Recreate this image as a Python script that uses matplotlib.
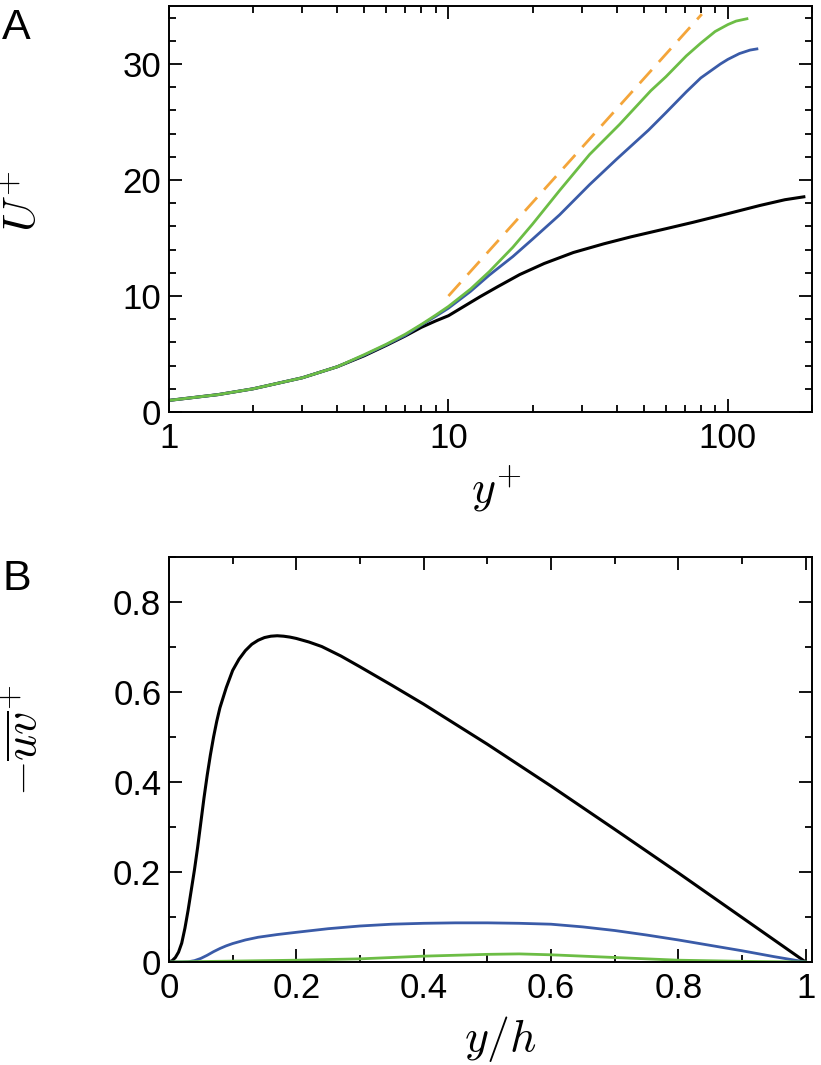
import numpy as np
import matplotlib
matplotlib.use("Agg")
import matplotlib.pyplot as plt
from matplotlib.ticker import LogLocator, NullFormatter, MultipleLocator, FixedLocator

plt.rcParams.update({
    "font.family": ["Liberation Sans", "DejaVu Sans"],
    "mathtext.fontset": "cm",
    "xtick.direction": "in",
    "ytick.direction": "in",
    "xtick.top": True,
    "ytick.right": True,
})

# ── Data: panel A, mean velocity profiles U+ vs y+ ─────────────────────────────
yp_black = [1, 1.5, 2, 3, 4, 5, 6, 7, 8, 9, 10, 11, 13, 15, 18, 22, 28, 36, 45,
            60, 75, 100, 130, 160, 187]
U_black = [1.0, 1.5, 2.0, 2.95, 3.9, 4.85, 5.75, 6.55, 7.3, 7.85, 8.3, 8.9, 9.95,
           10.8, 11.85, 12.8, 13.75, 14.5, 15.1, 15.8, 16.35, 17.1, 17.8, 18.3,
           18.55]

yp_blue = [1, 1.5, 2, 3, 4, 5, 6, 7, 8, 9, 10, 12, 14, 17, 20, 25, 32, 40, 52,
           60, 71, 80, 94, 100, 110, 120, 127]
U_blue = [1.0, 1.5, 2.0, 2.95, 3.9, 4.9, 5.8, 6.6, 7.5, 8.25, 8.95, 10.4, 11.8,
          13.4, 14.9, 17.0, 19.6, 21.8, 24.3, 25.8, 27.6, 28.8, 30.0, 30.4, 30.9,
          31.2, 31.3]

yp_green = [1, 1.5, 2, 3, 4, 5, 6, 7, 8, 9, 10, 12, 14, 17, 20, 25, 32, 41, 53,
            60, 71, 80, 90, 100, 107, 117]
U_green = [1.0, 1.5, 2.0, 2.95, 3.9, 4.95, 5.85, 6.7, 7.55, 8.35, 9.1, 10.6, 12.1,
           14.2, 16.2, 19.1, 22.2, 24.8, 27.7, 28.9, 30.7, 31.8, 32.8, 33.4,
           33.7, 33.9]

yp_dash = [10, 80.7]
U_dash = [10, 34.3]

# ── Data: panel B, Reynolds shear stress vs y/h ─────────────────────────────────
yh_black = [0, 0.005, 0.01, 0.015, 0.02, 0.025, 0.03, 0.035, 0.04, 0.045, 0.05,
            0.055, 0.06, 0.065, 0.07, 0.075, 0.08, 0.09, 0.1, 0.11, 0.12, 0.13,
            0.14, 0.15, 0.16, 0.17, 0.18, 0.19, 0.2, 0.22, 0.24, 0.27, 0.3, 0.35,
            0.4, 0.5, 0.6, 0.7, 0.8, 0.9, 1.0]
uv_black = [0, 0.003, 0.01, 0.022, 0.042, 0.075, 0.115, 0.16, 0.205, 0.255, 0.31,
            0.365, 0.415, 0.46, 0.5, 0.535, 0.565, 0.61, 0.648, 0.673, 0.692,
            0.706, 0.715, 0.721, 0.724, 0.725, 0.724, 0.722, 0.719, 0.711, 0.701,
            0.68, 0.656, 0.615, 0.573, 0.484, 0.391, 0.295, 0.198, 0.099, 0.0]

yh_blue = [0, 0.02, 0.03, 0.04, 0.05, 0.06, 0.07, 0.08, 0.09, 0.1, 0.12, 0.14,
           0.17, 0.2, 0.25, 0.3, 0.35, 0.4, 0.45, 0.5, 0.55, 0.6, 0.65, 0.7, 0.75,
           0.8, 0.85, 0.9, 0.95, 1.0]
uv_blue = [0, 0.0, 0.0005, 0.003, 0.008, 0.015, 0.023, 0.03, 0.036, 0.041, 0.049,
           0.055, 0.061, 0.066, 0.074, 0.08, 0.084, 0.086, 0.087, 0.087, 0.086,
           0.084, 0.078, 0.07, 0.06, 0.049, 0.037, 0.025, 0.012, 0]

yh_green = [0, 0.1, 0.2, 0.3, 0.35, 0.4, 0.45, 0.5, 0.55, 0.6, 0.65, 0.7, 0.75,
            0.8, 0.9, 1.0]
uv_green = [0, 0.002, 0.004, 0.007, 0.010, 0.013, 0.015, 0.017, 0.018, 0.016,
            0.013, 0.010, 0.007, 0.004, 0.0015, 0]

BLACK = "#000000"
BLUE = "#3a5ba8"
GREEN = "#6cbd45"
ORANGE = "#f4a53a"

TICK_FS = 25
LABEL_FS = 33


def style_axes(ax):
    for s in ax.spines.values():
        s.set_linewidth(1.4)
    ax.tick_params(which="major", length=9.4, width=1.3, labelsize=TICK_FS)
    ax.tick_params(which="minor", length=5, width=1.3)
    ax.tick_params(axis="x", which="major", pad=7)
    ax.tick_params(axis="y", which="major", pad=5.5)


fig = plt.figure(figsize=(8.21, 10.65), dpi=100)

# ── Panel A ────────────────────────────────────────────────────────────────────
axA = fig.add_axes([169 / 821, 1 - 412 / 1065, 643 / 821, 406 / 1065])
axA.plot(yp_black, U_black, color=BLACK, lw=2.2)
axA.plot(yp_blue, U_blue, color=BLUE, lw=2.0)
axA.plot(yp_green, U_green, color=GREEN, lw=2.0)
axA.plot(yp_dash, U_dash, color=ORANGE, lw=2.0, dashes=(6.5, 3.8))
axA.set_xscale("log")
axA.set_xlim(1, 200)
axA.set_ylim(0, 35)
axA.xaxis.set_major_locator(FixedLocator([1, 10, 100]))
axA.set_xticklabels(["1", "10", "100"])
axA.xaxis.set_minor_locator(LogLocator(base=10, subs=np.arange(2, 10)))
axA.xaxis.set_minor_formatter(NullFormatter())
axA.yaxis.set_major_locator(FixedLocator([0, 10, 20, 30]))
axA.yaxis.set_minor_locator(MultipleLocator(2))
style_axes(axA)
axA.set_xlabel(r"$y^{+}$", fontsize=LABEL_FS)
axA.set_ylabel(r"$U^{+}$", fontsize=LABEL_FS)
axA.xaxis.set_label_coords(0.509, -0.127)
axA.yaxis.set_label_coords(-0.19, 0.52)

# ── Panel B ────────────────────────────────────────────────────────────────────
axB = fig.add_axes([169 / 821, 1 - 962 / 1065, 643 / 821, 405 / 1065])
axB.plot(yh_black, uv_black, color=BLACK, lw=2.2)
axB.plot(yh_blue, uv_blue, color=BLUE, lw=2.0)
axB.plot(yh_green, uv_green, color=GREEN, lw=2.0)
axB.set_xlim(0, 1.01)
axB.set_ylim(0, 0.9)
xt = [0, 0.2, 0.4, 0.6, 0.8, 1.0]
axB.set_xticks(xt)
axB.set_xticklabels(["0", "0.2", "0.4", "0.6", "0.8", "1"])
axB.xaxis.set_minor_locator(MultipleLocator(0.1))
yt = [0, 0.2, 0.4, 0.6, 0.8]
axB.set_yticks(yt)
axB.set_yticklabels(["0", "0.2", "0.4", "0.6", "0.8"])
axB.yaxis.set_minor_locator(MultipleLocator(0.1))
style_axes(axB)
axB.set_xlabel(r"$y/h$", fontsize=LABEL_FS)
axB.set_ylabel(r"$-\overline{uv}^{+}$", fontsize=LABEL_FS)
axB.xaxis.set_label_coords(0.515, -0.128)
axB.yaxis.set_label_coords(-0.19, 0.546)

# panel letters
fig.text(2 / 821, 1 - 39 / 1065, "A", fontsize=31, va="baseline", ha="left")
fig.text(3 / 821, 1 - 590 / 1065, "B", fontsize=31, va="baseline", ha="left")

fig.savefig("out.png", dpi=100)
